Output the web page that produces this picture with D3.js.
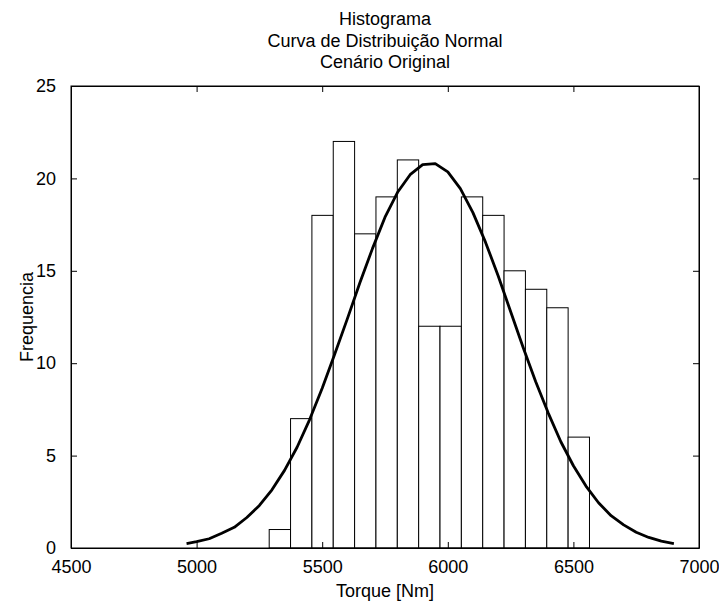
<!DOCTYPE html>
<html>
<head>
<meta charset="utf-8">
<script src="https://cdn.jsdelivr.net/npm/d3@7"></script>
<style>
  body { margin: 0; background: #fff; }
  text { font-family: "Liberation Sans", Arial, sans-serif; }
</style>
</head>
<body>
<div id="chart"></div>
<script>
const titleLines = ['Histograma', 'Curva de Distribuição Normal', 'Cenário Original'];

// histogram bins (left edges, Nm) and counts
const binEdges = [5289, 5374, 5459, 5544, 5629, 5714, 5799, 5884, 5969, 6054, 6139, 6224, 6309, 6394, 6479, 6564];
const counts = [1, 7, 18, 22, 17, 19, 21, 12, 12, 19, 18, 15, 14, 13, 6];

// normal curve points
const curveX = [4960, 5000, 5050, 5100, 5150, 5200, 5250, 5300, 5350, 5400, 5450, 5500, 5550, 5600, 5650,
  5700, 5750, 5800, 5850, 5900, 5950, 6000, 6050, 6100, 6150, 6200, 6250, 6300, 6350, 6400, 6450,
  6500, 6550, 6600, 6650, 6700, 6750, 6800, 6850, 6900];
const curveY = [0.24, 0.34, 0.50, 0.80, 1.12, 1.65, 2.30, 3.15, 4.20, 5.45, 6.95, 8.65, 10.5, 12.4, 14.35,
  16.2, 17.9, 19.25, 20.2, 20.75, 20.8, 20.35, 19.45, 18.15, 16.55, 14.75, 12.8, 10.85, 9.0, 7.3, 5.75,
  4.45, 3.35, 2.45, 1.75, 1.25, 0.85, 0.57, 0.37, 0.24];

const xTicks = [4500, 5000, 5500, 6000, 6500, 7000];
const yTicks = [0, 5, 10, 15, 20, 25];

const width = 719, height = 602;
const margin = { top: 86, right: 20, bottom: 54, left: 71 };
const fontSize = '18px';

const svg = d3.select('#chart').append('svg')
  .attr('width', width)
  .attr('height', height);

const x = d3.scaleLinear().domain([4500, 7000]).range([margin.left, width - margin.right]);
const y = d3.scaleLinear().domain([0, 25]).range([height - margin.bottom, margin.top]);

const bins = counts.map((c, i) => ({ x0: binEdges[i], x1: binEdges[i + 1], count: c }));

svg.append('g')
  .selectAll('rect')
  .data(bins)
  .enter().append('rect')
  .attr('x', d => x(d.x0))
  .attr('y', d => y(d.count))
  .attr('width', d => x(d.x1) - x(d.x0))
  .attr('height', d => y(0) - y(d.count))
  .attr('fill', '#fff')
  .attr('stroke', '#000')
  .attr('stroke-width', 1);

const points = curveX.map((v, i) => [v, curveY[i]]);
svg.append('path')
  .datum(points)
  .attr('fill', 'none')
  .attr('stroke', '#000')
  .attr('stroke-width', 2.8)
  .attr('stroke-linejoin', 'round')
  .attr('d', d3.line().x(d => x(d[0])).y(d => y(d[1])));

// box
svg.append('rect')
  .attr('x', x(4500))
  .attr('y', y(25))
  .attr('width', x(7000) - x(4500))
  .attr('height', y(0) - y(25))
  .attr('fill', 'none')
  .attr('stroke', '#000')
  .attr('stroke-width', 1);

const fmt = d3.format('d');
svg.append('g')
  .attr('transform', `translate(0,${y(0)})`)
  .call(d3.axisBottom(x).tickValues(xTicks).tickFormat(fmt).tickSizeInner(-6).tickSizeOuter(0).tickPadding(12));
svg.append('g')
  .attr('transform', `translate(0,${y(25)})`)
  .call(d3.axisTop(x).tickValues(xTicks).tickFormat('').tickSizeInner(-6).tickSizeOuter(0));
svg.append('g')
  .attr('transform', `translate(${x(4500)},0)`)
  .call(d3.axisLeft(y).tickValues(yTicks).tickFormat(fmt).tickSizeInner(-6).tickSizeOuter(0).tickPadding(15));
svg.append('g')
  .attr('transform', `translate(${x(7000)},0)`)
  .call(d3.axisRight(y).tickValues(yTicks).tickFormat('').tickSizeInner(-6).tickSizeOuter(0));

svg.selectAll('.domain').attr('stroke', '#000');
svg.selectAll('.tick line').attr('stroke', '#000');
svg.selectAll('.tick text')
  .attr('fill', '#000')
  .style('font-size', fontSize)
  .style('font-family', '"Liberation Sans", Arial, sans-serif');

svg.append('text')
  .attr('x', (x(4500) + x(7000)) / 2)
  .attr('y', 597)
  .attr('text-anchor', 'middle')
  .style('font-size', fontSize)
  .text('Torque [Nm]');

svg.append('text')
  .attr('transform', `translate(33,${(y(0) + y(25)) / 2}) rotate(-90)`)
  .attr('text-anchor', 'middle')
  .style('font-size', fontSize)
  .text('Frequencia');

svg.append('g')
  .selectAll('text')
  .data(titleLines)
  .enter().append('text')
  .attr('x', (x(4500) + x(7000)) / 2)
  .attr('y', (d, i) => 25 + i * 21.5)
  .attr('text-anchor', 'middle')
  .style('font-size', fontSize)
  .text(d => d);
</script>
</body>
</html>
